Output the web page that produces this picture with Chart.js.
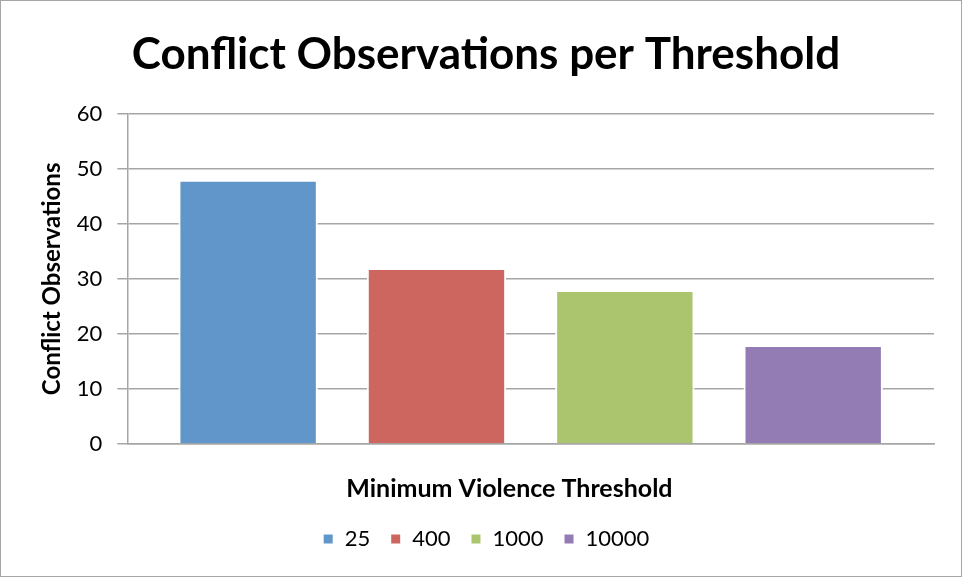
<!DOCTYPE html>
<html><head><meta charset="utf-8">
<script src="https://cdn.jsdelivr.net/npm/chart.js@4"></script>
<style>
html,body{margin:0;padding:0;background:#fff;}
#wrap{width:962px;height:577px;box-sizing:border-box;border:1px solid #a6a6a6;position:relative;}
canvas{display:block;}
</style></head><body>
<div id="wrap"><canvas id="c" width="960" height="575"></canvas></div>
<script>
const categories = [''];
const seriesNames = ['25', '400', '1000', '10000'];
const seriesValues = [[48], [32], [28], [18]];
const seriesColors = ['#6096c9', '#cd665e', '#abc46e', '#937cb4'];
const yTicks = [0, 10, 20, 30, 40, 50, 60];

const FONT = 'Lato, "Open Sans", sans-serif';
const datasets = seriesNames.map((n, i) => ({
  label: n,
  data: seriesValues[i],
  backgroundColor: seriesColors[i],
  borderColor: '#ffffff',
  borderWidth: 2,
  categoryPercentage: 0.934,
  barPercentage: 0.74
}));

new Chart(document.getElementById('c'), {
  type: 'bar',
  data: { labels: categories, datasets },
  options: {
    responsive: false,
    animation: false,
    layout: { padding: { left: 37, right: 27, top: 27, bottom: 16 } },
    plugins: {
      title: {
        display: true,
        text: 'Conflict Observations per Threshold',
        font: { family: FONT, size: 44, weight: 'bold' },
        color: '#000',
        padding: { top: 0, bottom: 33 }
      },
      legend: {
        position: 'bottom',
        labels: {
          font: { family: FONT, size: 22 },
          color: '#000',
          boxWidth: 11, boxHeight: 11,
          padding: 20
        }
      },
      tooltip: { enabled: false }
    },
    scales: {
      x: {
        grid: { display: false },
        border: { display: true, color: '#a6a6a6', width: 1.5 },
        ticks: { display: false },
        title: {
          display: true, text: 'Minimum Violence Threshold       ',
          font: { family: FONT, size: 25, weight: 'bold' }, color: '#000',
          padding: { top: 22, bottom: 4 }
        }
      },
      y: {
        min: yTicks[0], max: yTicks[yTicks.length - 1],
        afterBuildTicks: (s) => { s.ticks = yTicks.map(v => ({ value: v })); },
        grid: { color: '#a6a6a6', lineWidth: 1.5, tickLength: 10, drawTicks: true },
        border: { display: true, color: '#a6a6a6', width: 1.5 },
        ticks: { font: { family: FONT, size: 22 }, color: '#000', padding: 15 },
        title: {
          display: true, text: 'Conflict Observations',
          font: { family: FONT, size: 24, weight: 'bold' }, color: '#000',
          padding: { top: 0, bottom: -5 }
        }
      }
    }
  }
});
</script>
</body></html>
